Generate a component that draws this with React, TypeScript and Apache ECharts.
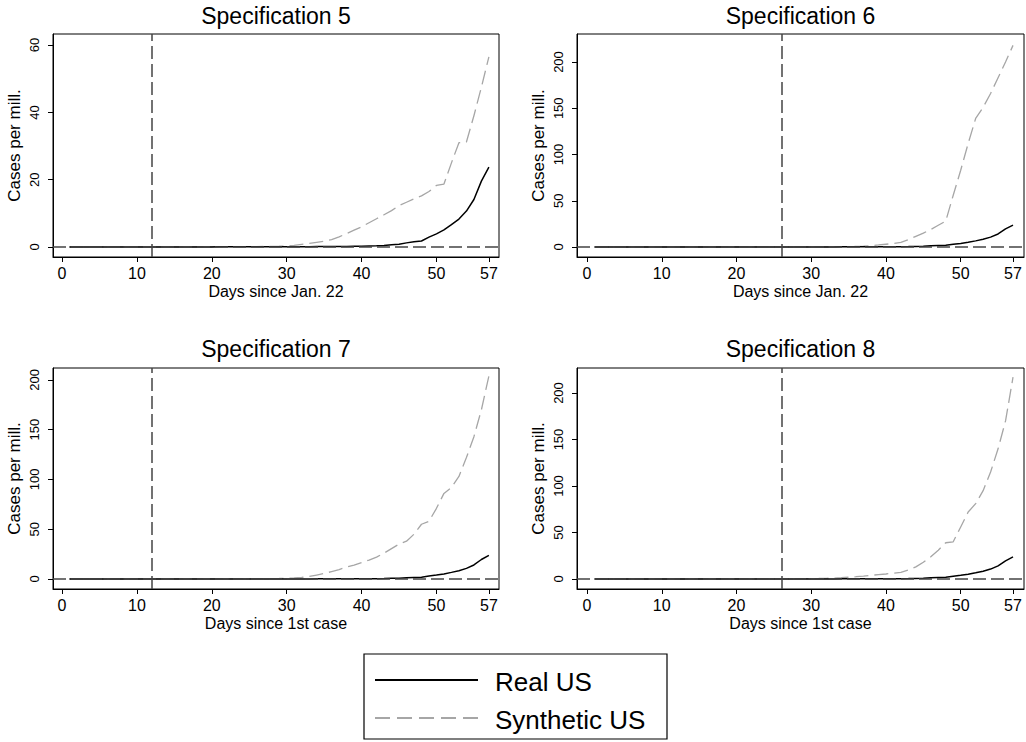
import React, { useEffect, useRef } from 'react';
import * as echarts from 'echarts';

// ---------- DATA ----------
const days: number[] = Array.from({ length: 57 }, (_, i) => i + 1);

const realUS: number[] = [
  0.003, 0.003, 0.006, 0.006, 0.015, 0.015, 0.015, 0.015, 0.015, 0.021,
  0.024, 0.034, 0.034, 0.034, 0.034, 0.034, 0.034, 0.034, 0.037, 0.037,
  0.04, 0.04, 0.04, 0.04, 0.04, 0.04, 0.04, 0.04, 0.046, 0.046,
  0.05, 0.11, 0.11, 0.16, 0.16, 0.17, 0.18, 0.18, 0.21,
  0.23, 0.3, 0.36, 0.45, 0.66, 0.8, 1.23, 1.58, 1.78, 2.92, 3.91, 5.07, 6.64, 8.31, 10.67, 14.12, 19.58, 23.73,
];

const synthSpec5: number[] = [
  0, 0, 0.01, 0.01, 0.02, 0.02, 0.02, 0.03, 0.03, 0.03,
  0.04, 0.04, 0.05, 0.05, 0.05, 0.06, 0.06, 0.07, 0.07, 0.08,
  0.08, 0.09, 0.1, 0.11, 0.12, 0.14, 0.16, 0.19, 0.23, 0.3,
  0.5, 0.8, 1.1, 1.4, 1.7, 2.2, 3.0, 4.0, 5.0, 6.0,
  7.2, 8.4, 9.6, 10.8, 12.3, 13.3, 14.3, 15.2, 16.5, 18.3,
  18.7, 25.0, 31.0, 31.2, 39.0, 47.5, 56.5,
];

const synthSpec6: number[] = [
  0, 0, 0, 0, 0.01, 0.01, 0.01, 0.01, 0.01, 0.02,
  0.02, 0.02, 0.02, 0.03, 0.03, 0.03, 0.03, 0.04, 0.04, 0.04,
  0.05, 0.05, 0.06, 0.06, 0.07, 0.08, 0.09, 0.1, 0.12, 0.14,
  0.17, 0.2, 0.25, 0.32, 0.45, 0.7, 1.0, 1.5, 2.2, 3.0,
  3.8, 5.0, 8.0, 11.5, 15.0, 19.0, 23.5, 28.0, 56.0, 83.0,
  112, 139, 151, 166, 183, 200, 218,
];

const synthSpec7: number[] = [
  0, 0, 0, 0.01, 0.01, 0.01, 0.02, 0.02, 0.02, 0.03,
  0.03, 0.04, 0.04, 0.05, 0.05, 0.06, 0.07, 0.08, 0.09, 0.1,
  0.11, 0.13, 0.15, 0.18, 0.21, 0.25, 0.3, 0.38, 0.5, 0.8,
  1.0, 1.5, 2.5, 4.0, 5.5, 7.5, 9.5, 12.0, 14.0, 16.5,
  19.0, 22.0, 26.0, 30.5, 35.0, 38.0, 45.0, 55.0, 58.0, 71.0,
  86, 92, 103, 122, 143, 170, 204,
];

const synthSpec8: number[] = [
  0, 0, 0, 0, 0.01, 0.01, 0.01, 0.01, 0.02, 0.02,
  0.02, 0.03, 0.03, 0.03, 0.04, 0.04, 0.05, 0.05, 0.06, 0.07,
  0.08, 0.09, 0.1, 0.12, 0.14, 0.17, 0.2, 0.25, 0.32, 0.4,
  0.55, 0.75, 1.0, 1.4, 1.9, 2.5, 3.2, 4.0, 4.7, 5.4,
  6.3, 7.2, 9.7, 13.0, 18.0, 24.0, 31.0, 39.0, 40.0, 56.0,
  72, 81, 95, 115, 140, 170, 217,
];

const panelTitles: string[] = ['Specification 5', 'Specification 6', 'Specification 7', 'Specification 8'];
const xTitles: string[] = ['Days since Jan. 22', 'Days since Jan. 22', 'Days since 1st case', 'Days since 1st case'];
const yTitle = 'Cases per mill.';
const treatDays: number[] = [12, 26, 12, 26];
const xTicks: number[] = [0, 10, 20, 30, 40, 50, 57];
const yTicksSmall: number[] = [0, 20, 40, 60];
const yTicksLarge: number[] = [0, 50, 100, 150, 200];
const legendLabels: string[] = ['Real US', 'Synthetic US'];

// ---------- LAYOUT / STYLE ----------
const FONT = '"Liberation Sans", Arial, Helvetica, sans-serif';
const synthAll = [synthSpec5, synthSpec6, synthSpec7, synthSpec8];
const yTicksAll = [yTicksSmall, yTicksLarge, yTicksLarge, yTicksLarge];

const grids = [
  { left: 53, top: 34, width: 446, height: 223 },
  { left: 577, top: 34, width: 447, height: 223 },
  { left: 53, top: 368, width: 446, height: 221 },
  { left: 577, top: 368, width: 447, height: 221 },
];
const xRange = [[-1.2, 58.35], [-1.34, 58.47], [-1.2, 58.35], [-1.34, 58.47]];
const yRange = [[-2.97, 63.3], [-10.8, 230.3], [-10.05, 212], [-10.75, 226.9]];
const titlePos = [[276, 15.5], [800.5, 15.5], [276, 349], [800.5, 349]];

function buildOption() {
  const gridOpts = grids.map((g) => ({
    ...g,
    show: true,
    borderColor: '#000',
    borderWidth: 1,
    backgroundColor: 'transparent',
    containLabel: false,
  }));

  const xAxes = grids.map((_, i) => ({
    type: 'value',
    gridIndex: i,
    min: xRange[i][0],
    max: xRange[i][1],
    name: xTitles[i],
    nameLocation: 'middle',
    nameGap: 26,
    nameTextStyle: { fontSize: 16, color: '#000', fontFamily: FONT },
    axisLine: { show: true, onZero: false, lineStyle: { color: '#000', width: 1 } },
    axisTick: { show: true, inside: false, length: 5, customValues: xTicks, lineStyle: { color: '#000', width: 1 } },
    axisLabel: { show: true, customValues: xTicks, fontSize: 16, color: '#000', margin: 8, fontFamily: FONT },
    splitLine: { show: false },
  }));

  const yAxes = grids.map((_, i) => ({
    type: 'value',
    gridIndex: i,
    min: yRange[i][0],
    max: yRange[i][1],
    name: yTitle,
    nameLocation: 'middle',
    nameGap: 30,
    nameRotate: 90,
    nameTextStyle: { fontSize: 17, color: '#000', fontFamily: FONT },
    axisLine: { show: true, onZero: false, lineStyle: { color: '#000', width: 1 } },
    axisTick: { show: true, inside: false, length: 5, customValues: yTicksAll[i], lineStyle: { color: '#000', width: 1 } },
    axisLabel: { show: true, customValues: yTicksAll[i], rotate: 90, fontSize: 13, color: '#000', margin: 12, fontFamily: FONT },
    splitLine: { show: false },
  }));

  const series: any[] = [];
  grids.forEach((_, i) => {
    series.push({
      type: 'line',
      xAxisIndex: i,
      yAxisIndex: i,
      data: [],
      silent: true,
      z: 1,
      markLine: {
        silent: true,
        symbol: ['none', 'none'],
        label: { show: false },
        lineStyle: { color: '#444', width: 1.5, type: [13, 5] },
        emphasis: { disabled: true },
        data: [{ yAxis: 0 }, { xAxis: treatDays[i] }],
      },
    });
    series.push({
      type: 'line',
      name: legendLabels[1],
      xAxisIndex: i,
      yAxisIndex: i,
      data: days.map((d, k) => [d, synthAll[i][k]]),
      symbol: 'none',
      showSymbol: false,
      z: 2,
      lineStyle: { color: '#a6a6a6', width: 1.3, type: [14, 6] },
    });
    series.push({
      type: 'line',
      name: legendLabels[0],
      xAxisIndex: i,
      yAxisIndex: i,
      data: days.map((d, k) => [d, realUS[k]]),
      symbol: 'none',
      showSymbol: false,
      z: 3,
      lineStyle: { color: '#000', width: 1.5 },
    });
  });

  const graphic: any[] = panelTitles.map((t, i) => ({
    type: 'text',
    x: titlePos[i][0],
    y: titlePos[i][1],
    silent: true,
    style: {
      text: t,
      fontSize: 23,
      fontFamily: FONT,
      fill: '#000',
      textAlign: 'center',
      textVerticalAlign: 'middle',
      verticalAlign: 'middle',
    },
  }));

  graphic.push(
    { type: 'rect', shape: { x: 364, y: 654, width: 303, height: 85 }, style: { fill: '#fff', stroke: '#000', lineWidth: 1.2 }, silent: true },
    { type: 'line', shape: { x1: 375, y1: 680, x2: 478, y2: 680 }, style: { stroke: '#000', lineWidth: 2 }, silent: true },
    { type: 'line', shape: { x1: 375, y1: 718, x2: 478, y2: 718 }, style: { stroke: '#a6a6a6', lineWidth: 2, lineDash: [15, 7] }, silent: true },
    {
      type: 'text', x: 495, y: 682, silent: true,
      style: { text: legendLabels[0], fontSize: 26, fontFamily: FONT, fill: '#000', textAlign: 'left', textVerticalAlign: 'middle', verticalAlign: 'middle' },
    },
    {
      type: 'text', x: 495, y: 720, silent: true,
      style: { text: legendLabels[1], fontSize: 26, fontFamily: FONT, fill: '#000', textAlign: 'left', textVerticalAlign: 'middle', verticalAlign: 'middle' },
    },
  );

  return {
    animation: false,
    backgroundColor: '#fff',
    textStyle: { fontFamily: FONT },
    grid: gridOpts,
    xAxis: xAxes,
    yAxis: yAxes,
    series,
    graphic,
  };
}

export default function App() {
  const ref = useRef<HTMLDivElement>(null);
  useEffect(() => {
    document.body.style.margin = '0';
    if (!ref.current) return;
    const chart = echarts.init(ref.current, null, { renderer: 'svg' });
    chart.setOption(buildOption() as any);
    return () => {
      chart.dispose();
    };
  }, []);
  return <div ref={ref} style={{ width: 1026, height: 742, background: '#fff' }} />;
}
